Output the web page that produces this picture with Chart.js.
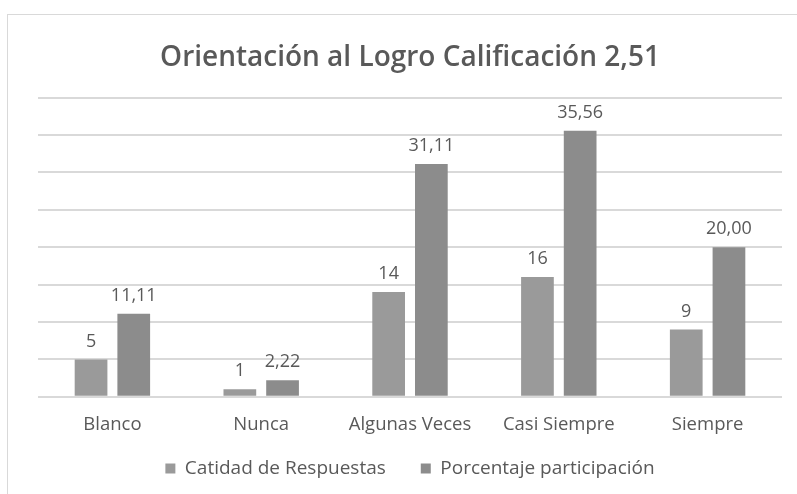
<!DOCTYPE html>
<html>
<head>
<meta charset="utf-8">
<script src="https://cdn.jsdelivr.net/npm/chart.js@4"></script>
<style>
  body { margin: 0; background: #fff; }
  #box { position: absolute; left: 7px; top: 14px; width: 800px; height: 490px; border: 1px solid #d9d9d9; }
  #wrap { position: relative; width: 800px; height: 490px; }
</style>
</head>
<body>
<div id="box"><div id="wrap"><canvas id="canvas"></canvas></div></div>
<script>
// data
var categories = ["Blanco", "Nunca", "Algunas Veces", "Casi Siempre", "Siempre"];
var respuestas = [5, 1, 14, 16, 9];
var porcentaje = [11.11, 2.22, 31.11, 35.56, 20.00];
var seriesNames = ["Catidad de Respuestas", "Porcentaje participación"];
var yTicks = [0, 5, 10, 15, 20, 25, 30, 35, 40];

let grey1 = "#9a9a9a";
let grey2 = "#8c8c8c";
let textGrey = "#595959";
let fontName = "'Open Sans', sans-serif";

// labels above the bars, with comma decimals
const barLabels = {
  id: "barLabels",
  afterDatasetsDraw(chart) {
    const c = chart.ctx;
    c.save();
    c.font = "18px " + fontName;
    c.fillStyle = textGrey;
    c.textAlign = "center";
    c.textBaseline = "bottom";
    chart.data.datasets.forEach(function (ds, i) {
      chart.getDatasetMeta(i).data.forEach(function (bar, j) {
        var v = ds.data[j];
        var txt = i === 0 ? String(v) : v.toFixed(2).replace(".", ",");
        c.fillText(txt, bar.x, bar.y - 9);
      });
    });
    c.restore();
  },
};

// legend padding is shared by the item gaps and the height; draw it a bit higher
const liftLegend = {
  id: "liftLegend",
  afterInit(chart) {
    const lg = chart.legend;
    if (!lg) return;
    const draw = lg.draw.bind(lg);
    lg.draw = function () {
      this.top -= 21;
      this.bottom -= 21;
      draw();
      this.top += 21;
      this.bottom += 21;
    };
  },
};

const ctx = document.getElementById("canvas").getContext("2d");
const myChart = new Chart(ctx, {
  type: "bar",
  data: {
    labels: categories,
    datasets: [
      {
        label: seriesNames[0],
        data: respuestas,
        backgroundColor: grey1,
        categoryPercentage: 0.574,
        barPercentage: 0.766,
      },
      {
        label: seriesNames[1],
        data: porcentaje,
        backgroundColor: grey2,
        categoryPercentage: 0.574,
        barPercentage: 0.766,
      },
    ],
  },
  options: {
    responsive: true,
    maintainAspectRatio: false,
    animation: false,
    layout: { padding: { left: 30, right: 26, top: 16, bottom: -4 } },
    plugins: {
      title: {
        display: true,
        text: "Orientación al Logro Calificación 2,51",
        color: textGrey,
        font: { family: fontName, size: 28, weight: "600" },
        padding: { top: 10, bottom: 23 },
      },
      legend: {
        position: "bottom",
        labels: {
          color: textGrey,
          font: { family: fontName, size: 19 },
          boxWidth: 10,
          boxHeight: 10,
          padding: 35,
        },
      },
      tooltip: { enabled: false },
    },
    scales: {
      x: {
        grid: { display: false },
        border: { display: false },
        ticks: { color: textGrey, font: { family: fontName, size: 18.5 }, padding: 9 },
      },
      y: {
        min: 0,
        max: 40,
        afterBuildTicks: function (axis) {
          axis.ticks = yTicks.map(function (v) { return { value: v }; });
        },
        grid: { color: "#d9d9d9", lineWidth: 2, drawTicks: false },
        border: { display: false },
        ticks: { display: false },
      },
    },
  },
  plugins: [barLabels, liftLegend],
});
</script>
</body>
</html>
